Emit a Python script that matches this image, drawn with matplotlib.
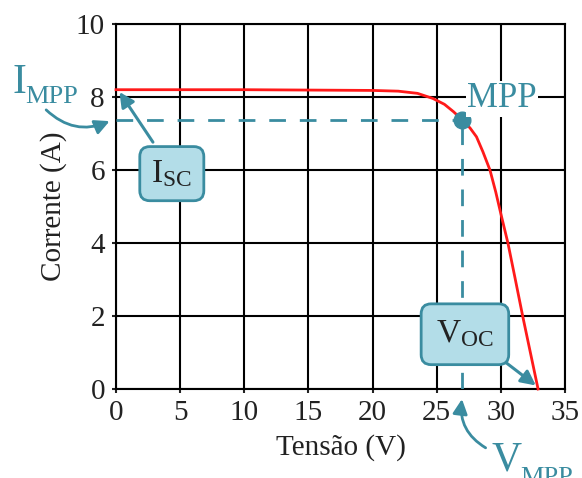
import matplotlib
matplotlib.use("Agg")
import matplotlib.pyplot as plt

# Curva I-V do módulo fotovoltaico
tensao = [0, 10, 20, 22, 23.5, 24.7, 25.6, 26.3, 27, 27.6, 28.1, 28.6, 29.15,
          29.6, 30.0, 30.55, 31.1, 31.7, 32.3, 32.9]
corrente = [8.2, 8.2, 8.18, 8.16, 8.1, 7.96, 7.8, 7.6, 7.37, 7.15, 6.91, 6.5, 6.0,
            5.4, 4.8, 4.0, 3.05, 2.0, 1.0, 0]

v_mpp, i_mpp = 27.0, 7.37
v_oc, i_sc = 32.9, 8.2

x_ticks = [0, 5, 10, 15, 20, 25, 30, 35]
y_ticks = [0, 2, 4, 6, 8, 10]

teal = '#3a8ca0'
box_fill = '#b3dde8'

plt.rcParams['font.family'] = ['Liberation Serif', 'DejaVu Serif']
plt.rcParams['mathtext.fontset'] = 'custom'
plt.rcParams['mathtext.rm'] = 'Liberation Serif'
plt.rcParams['mathtext.it'] = 'Liberation Serif:italic'

fig = plt.figure(figsize=(5.82, 4.78), dpi=100)
ax = fig.add_axes([116/582, 1 - 389/478, 449/582, 365/478])

ax.set_xlim(0, 35)
ax.set_ylim(0, 10)
ax.set_xticks(x_ticks)
ax.set_yticks(y_ticks)
ax.grid(True, color='black', linewidth=1.5)
ax.set_axisbelow(True)
for s in ax.spines.values():
    s.set_linewidth(1.5)
ax.tick_params(direction='out', length=3, width=1.5, labelsize=21, colors='#222222', pad=5)

ax.set_xlabel('Tensão (V)', fontsize=21, color='#222222', labelpad=6)
ax.set_ylabel('Corrente (A)', fontsize=21, color='#222222', labelpad=6)

# linhas tracejadas do MPP
ax.plot([0, v_mpp], [i_mpp, i_mpp], color=teal, lw=2, dashes=(6, 5), zorder=3)
ax.plot([v_mpp, v_mpp], [0, i_mpp], color=teal, lw=2, dashes=(6, 5), zorder=3)

# curva
ax.plot(tensao, corrente, color='#ff1a1a', lw=2, zorder=4, clip_on=False)
ax.plot([v_mpp], [i_mpp], 'o', color=teal, ms=12, zorder=5)

# rótulo MPP
ax.text(30.1, 7.72, 'MPP', fontsize=25, color=teal, ha='center', va='baseline',
        bbox=dict(facecolor='white', edgecolor='none', pad=1), zorder=6)

# I_MPP
ax.text(-8.03, 8.11, 'I', fontsize=30, color=teal, ha='left', va='baseline', clip_on=False)
ax.text(-7.05, 7.84, 'MPP', fontsize=19, color=teal, ha='left', va='baseline', clip_on=False)
ax.annotate('', xy=(-0.3, i_mpp), xytext=(-5.6, 7.7), annotation_clip=False,
            arrowprops=dict(arrowstyle='-|>', color=teal, lw=2, mutation_scale=22,
                            connectionstyle='arc3,rad=0.35'))

# I_SC
ax.annotate('', xy=(0.15, 8.2), xytext=(3.0, 6.7),
            arrowprops=dict(arrowstyle='-|>', color=teal, lw=2.2, mutation_scale=22))
ax.text(4.35, 5.9, r'$\mathrm{I}_{\mathrm{SC}}$', fontsize=24, color='#222222',
        ha='center', va='center', zorder=7,
        bbox=dict(boxstyle='round,pad=0.35,rounding_size=0.3', facecolor=box_fill,
                  edgecolor=teal, lw=2))

# V_OC
ax.annotate('', xy=(v_oc, 0.05), xytext=(30.3, 0.75),
            arrowprops=dict(arrowstyle='-|>', color=teal, lw=2.2, mutation_scale=22), zorder=6)
ax.text(27.2, 1.5, r'$\mathrm{V}_{\mathrm{OC}}$', fontsize=24, color='#222222',
        ha='center', va='center', zorder=7,
        bbox=dict(boxstyle='round,pad=0.45,rounding_size=0.3', facecolor=box_fill,
                  edgecolor=teal, lw=2))

# V_MPP
ax.text(29.3, -2.22, 'V', fontsize=30, color=teal, ha='left', va='baseline', clip_on=False)
ax.text(31.5, -2.6, 'MPP', fontsize=19, color=teal, ha='left', va='baseline', clip_on=False)
ax.annotate('', xy=(v_mpp, -0.2), xytext=(29.0, -1.65), annotation_clip=False,
            arrowprops=dict(arrowstyle='-|>', color=teal, lw=2, mutation_scale=22,
                            connectionstyle='arc3,rad=-0.35'))

fig.savefig('out.png', dpi=100)
